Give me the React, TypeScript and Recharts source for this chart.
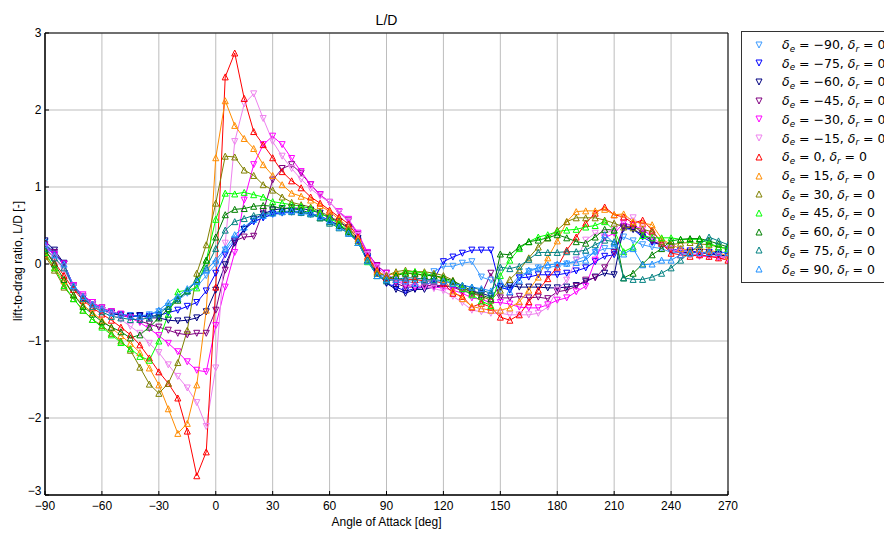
import React from 'react';
import { LineChart, Line, XAxis, YAxis, CartesianGrid, ReferenceArea } from 'recharts';

const angles = [
  -90, -85, -80, -75, -70, -65, -60, -55, -50, -45,
  -40, -35, -30, -25, -20, -15, -10, -5, 0, 5,
  10, 15, 20, 25, 30, 35, 40, 45, 50, 55,
  60, 65, 70, 75, 80, 85, 90, 95, 100, 105,
  110, 115, 120, 125, 130, 135, 140, 145, 150, 155,
  160, 165, 170, 175, 180, 185, 190, 195, 200, 205,
  210, 215, 220, 225, 230, 235, 240, 245, 250, 255,
  260, 265, 270,
];

const em90 = [
  0.28, 0.15, 0.0, -0.3, -0.44, -0.53, -0.6, -0.64, -0.66, -0.67,
  -0.67, -0.66, -0.62, -0.55, -0.47, -0.38, -0.3, -0.15, 0.0, 0.18,
  0.32, 0.45, 0.55, 0.6, 0.64, 0.66, 0.67, 0.66, 0.64, 0.6,
  0.55, 0.48, 0.4, 0.3, 0.08, -0.12, -0.18, -0.2, -0.22, -0.2,
  -0.18, -0.1, -0.03, -0.03, 0.01, 0.03, -0.17, -0.21, -0.33, -0.3,
  -0.15, -0.1, -0.05, -0.05, -0.02, 0.0, 0.05, 0.1, 0.15, 0.2,
  0.2, 0.35, 0.3, 0.25, 0.22, 0.2, 0.15, 0.15, 0.15, 0.15,
  0.15, 0.15, 0.15,
];
const em75 = [
  0.22, 0.12, 0.0, -0.3, -0.44, -0.53, -0.6, -0.64, -0.66, -0.68,
  -0.68, -0.68, -0.67, -0.63, -0.6, -0.55, -0.5, -0.35, -0.12, 0.12,
  0.3, 0.45, 0.55, 0.6, 0.65, 0.67, 0.68, 0.68, 0.66, 0.62,
  0.57, 0.5, 0.42, 0.3, 0.08, -0.12, -0.25, -0.3, -0.35, -0.32,
  -0.3, -0.2, 0.03, 0.09, 0.14, 0.18, 0.18, 0.18, -0.3, -0.34,
  -0.18, -0.17, -0.14, -0.14, -0.14, -0.12, -0.09, -0.05, 0.03, 0.1,
  0.12, 0.46, 0.45, 0.35, 0.28, 0.25, 0.2, 0.17, 0.17, 0.15,
  0.15, 0.12, 0.1,
];
const em60 = [
  0.3, 0.18, 0.01, -0.3, -0.44, -0.53, -0.6, -0.64, -0.67, -0.68,
  -0.67, -0.7, -0.7, -0.73, -0.74, -0.73, -0.7, -0.62, -0.34, -0.01,
  0.27, 0.45, 0.58, 0.65, 0.7, 0.72, 0.73, 0.72, 0.7, 0.66,
  0.6, 0.55, 0.47, 0.33, 0.1, -0.1, -0.25, -0.33, -0.38, -0.33,
  -0.33, -0.3, -0.28, -0.3, -0.32, -0.35, -0.38, -0.42, -0.3, -0.28,
  -0.3, -0.3, -0.3, -0.31, -0.31, -0.3, -0.28, -0.23, -0.17, -0.12,
  -0.14, 0.48, 0.45, 0.38, 0.3, 0.25, 0.2, 0.15, 0.15, 0.15,
  0.13, 0.12, 0.1,
];
const em45 = [
  0.25, 0.15, 0.0, -0.28, -0.42, -0.5, -0.57, -0.62, -0.66, -0.7,
  -0.74, -0.78, -0.82, -0.86, -0.9, -0.92, -0.9, -0.9, -0.6, -0.08,
  0.3, 0.35, 0.36, 0.68, 1.09, 1.24, 1.29, 1.18, 1.03, 0.9,
  0.8, 0.67, 0.56, 0.38, 0.14, -0.02, -0.12, -0.25, -0.3, -0.3,
  -0.28, -0.28, -0.28, -0.3, -0.35, -0.38, -0.4, -0.12, -0.44, -0.44,
  -0.42, -0.44, -0.43, -0.45, -0.36, -0.34, -0.29, -0.21, -0.18, -0.05,
  0.15, 0.48, 0.5, 0.4, 0.3, 0.25, 0.18, 0.15, 0.12, 0.12,
  0.1, 0.1, 0.08,
];
const em30 = [
  0.22, 0.12, 0.0, -0.28, -0.4, -0.5, -0.57, -0.62, -0.65, -0.7,
  -0.76, -0.84, -0.93, -1.03, -1.14, -1.27, -1.38, -1.4, -0.8, -0.3,
  0.15, 0.83, 1.29, 1.55, 1.66, 1.55, 1.37, 1.2, 1.03, 0.9,
  0.8, 0.68, 0.58, 0.4, 0.15, -0.03, -0.12, -0.22, -0.27, -0.3,
  -0.3, -0.3, -0.31, -0.34, -0.38, -0.44, -0.46, -0.5, -0.5, -0.52,
  -0.56, -0.57, -0.57, -0.53, -0.47, -0.44, -0.36, -0.29, 0.05, 0.34,
  0.4, 0.53, 0.5, 0.45, 0.35, 0.25, 0.2, 0.15, 0.12, 0.1,
  0.1, 0.08, 0.05,
];
const em15 = [
  0.2, 0.08, -0.08, -0.3, -0.43, -0.53, -0.6, -0.65, -0.72, -0.81,
  -0.9, -1.03, -1.15, -1.31, -1.46, -1.61, -1.8, -2.11, -1.35, 0.27,
  1.59, 2.08, 2.21, 1.89, 1.59, 1.4, 1.24, 1.1, 0.98, 0.88,
  0.8, 0.67, 0.55, 0.37, 0.12, -0.05, -0.15, -0.2, -0.25, -0.28,
  -0.3, -0.32, -0.35, -0.42, -0.5, -0.6, -0.62, -0.64, -0.64, -0.66,
  -0.66, -0.66, -0.64, -0.56, -0.34, -0.21, 0.05, 0.31, 0.4, 0.4,
  0.44, 0.57, 0.6, 0.48, 0.35, 0.25, 0.2, 0.15, 0.12, 0.12,
  0.1, 0.1, 0.08,
];
const e0 = [
  0.18, 0.02, -0.15, -0.33, -0.47, -0.57, -0.65, -0.73, -0.82, -0.92,
  -1.05, -1.22, -1.4, -1.55, -1.74, -2.17, -2.75, -2.44, -0.3, 2.43,
  2.74, 2.15, 1.72, 1.55, 1.38, 1.2, 1.08, 0.99, 0.87, 0.79,
  0.7, 0.61, 0.52, 0.35, 0.1, -0.08, -0.18, -0.2, -0.2, -0.2,
  -0.22, -0.22, -0.25, -0.38, -0.42, -0.56, -0.51, -0.56, -0.69, -0.73,
  -0.66, -0.49, -0.34, -0.19, -0.04, 0.18, 0.35, 0.53, 0.66, 0.74,
  0.64, 0.61, 0.53, 0.57, 0.44, 0.27, 0.14, 0.12, 0.1, 0.12,
  0.1, 0.08, 0.05,
];
const e15 = [
  0.12, -0.05, -0.22, -0.4, -0.53, -0.63, -0.73, -0.83, -0.93, -1.03,
  -1.15, -1.35, -1.57, -1.88, -2.2, -2.07, -1.57, -0.6, 1.38, 2.12,
  1.8, 1.63, 1.5, 1.29, 1.15, 1.03, 0.92, 0.88, 0.83, 0.76,
  0.68, 0.58, 0.48, 0.33, 0.08, -0.1, -0.15, -0.12, -0.12, -0.13,
  -0.15, -0.15, -0.2, -0.35, -0.45, -0.55, -0.58, -0.6, -0.6, -0.57,
  -0.49, -0.34, -0.17, 0.08, 0.3, 0.55, 0.68, 0.69, 0.69, 0.71,
  0.64, 0.65, 0.55, 0.53, 0.51, 0.33, 0.25, 0.2, 0.18, 0.2,
  0.18, 0.15, 0.1,
];
const e30 = [
  0.1, -0.08, -0.3, -0.45, -0.6, -0.72, -0.8, -0.9, -1.0, -1.12,
  -1.34, -1.56, -1.68, -1.55, -1.28, -0.86, -0.12, 0.25, 0.79, 1.4,
  1.39, 1.22, 1.15, 1.03, 0.96, 0.87, 0.8, 0.77, 0.74, 0.68,
  0.62, 0.55, 0.45, 0.3, 0.05, -0.12, -0.15, -0.1, -0.08, -0.1,
  -0.1, -0.12, -0.15, -0.21, -0.3, -0.38, -0.42, -0.47, -0.34, -0.2,
  -0.08, 0.08, 0.22, 0.34, 0.44, 0.55, 0.6, 0.6, 0.6, 0.57,
  0.53, 0.48, 0.47, 0.45, 0.42, 0.29, 0.25, 0.27, 0.28, 0.26,
  0.25, 0.22, 0.2,
];
const e45 = [
  0.15, -0.05, -0.28, -0.45, -0.6, -0.72, -0.82, -0.92, -1.02, -1.1,
  -1.2, -1.25, -1.0, -0.65, -0.36, -0.34, -0.31, 0.05, 0.58, 0.92,
  0.91, 0.93, 0.9, 0.87, 0.81, 0.79, 0.77, 0.75, 0.72, 0.66,
  0.6, 0.52, 0.43, 0.28, 0.03, -0.15, -0.2, -0.15, -0.1, -0.1,
  -0.12, -0.15, -0.18, -0.25, -0.32, -0.4, -0.48, -0.54, -0.15, 0.05,
  0.2, 0.29, 0.35, 0.38, 0.42, 0.44, 0.45, 0.48, 0.5, 0.55,
  0.44, 0.16, 0.22, 0.37, 0.34, 0.34, 0.34, 0.32, 0.32, 0.32,
  0.27, 0.22, 0.2,
];
const e60 = [
  0.18, 0.0, -0.2, -0.4, -0.55, -0.65, -0.75, -0.82, -0.88, -0.96,
  -0.92, -0.82, -0.7, -0.58, -0.47, -0.35, -0.2, 0.05, 0.35, 0.64,
  0.71, 0.72, 0.75, 0.76, 0.75, 0.72, 0.72, 0.7, 0.66, 0.6,
  0.55, 0.5, 0.42, 0.28, 0.05, -0.15, -0.2, -0.15, -0.12, -0.12,
  -0.15, -0.15, -0.18, -0.22, -0.28, -0.35, -0.4, -0.45, 0.13, 0.12,
  0.22, 0.29, 0.31, 0.34, 0.38, 0.34, 0.29, 0.27, 0.35, 0.45,
  0.44, -0.18, -0.12, 0.0, 0.12, 0.2, 0.3, 0.32, 0.33, 0.33,
  0.3, 0.26, 0.22,
];
const e75 = [
  0.2, 0.08, -0.05, -0.3, -0.45, -0.55, -0.62, -0.68, -0.7, -0.72,
  -0.72, -0.7, -0.65, -0.55, -0.45, -0.35, -0.22, -0.05, 0.2, 0.44,
  0.55, 0.59, 0.63, 0.65, 0.67, 0.68, 0.68, 0.67, 0.65, 0.6,
  0.53, 0.47, 0.4, 0.28, 0.05, -0.15, -0.22, -0.2, -0.18, -0.18,
  -0.2, -0.2, -0.22, -0.25, -0.28, -0.3, -0.34, -0.38, -0.04, -0.06,
  -0.03, 0.06, 0.15, 0.15, 0.15, 0.16, 0.16, 0.18, 0.25, 0.31,
  0.29, -0.18, -0.2, -0.2, -0.17, -0.12, -0.05, 0.05, 0.15, 0.25,
  0.35, 0.3, 0.25,
];
const e90 = [
  0.25, 0.12, 0.0, -0.28, -0.42, -0.52, -0.58, -0.63, -0.65, -0.67,
  -0.68, -0.66, -0.6, -0.5, -0.42, -0.32, -0.22, -0.08, 0.05, 0.2,
  0.38, 0.48, 0.58, 0.63, 0.66, 0.68, 0.69, 0.68, 0.66, 0.62,
  0.56, 0.48, 0.4, 0.28, 0.04, -0.15, -0.2, -0.2, -0.22, -0.25,
  -0.22, -0.22, -0.22, -0.25, -0.28, -0.3, -0.32, -0.35, -0.23, -0.36,
  -0.21, -0.08, -0.05, -0.01, 0.0, 0.01, 0.02, 0.05, 0.17, 0.38,
  0.27, 0.13, 0.2, -0.01, 0.0, 0.05, 0.05, 0.12, 0.14, 0.15,
  0.15, 0.15, 0.15,
];

const elevatorLabels = ['\u221290', '\u221275', '\u221260', '\u221245', '\u221230', '\u221215', '0', '15', '30', '45', '60', '75', '90'];
const seriesKeys = ['em90', 'em75', 'em60', 'em45', 'em30', 'em15', 'e0', 'e15', 'e30', 'e45', 'e60', 'e75', 'e90'];
const seriesValues = [em90, em75, em60, em45, em30, em15, e0, e15, e30, e45, e60, e75, e90];
const seriesColors = ['#3d9bff', '#0000ff', '#000080', '#800080', '#ff00ff', '#ee82ee', '#ff0000', '#ff8c00', '#808000', '#00ff00', '#008000', '#008080', '#1e90ff'];
const seriesDown = [true, true, true, true, true, true, false, false, false, false, false, false, false];

const xTicks = [-90, -60, -30, 0, 30, 60, 90, 120, 150, 180, 210, 240, 270];
const yTicks = [-3, -2, -1, 0, 1, 2, 3];

const data = angles.map((a, i) => {
  const row: Record<string, number> = { aoa: a };
  seriesKeys.forEach((k, j) => {
    row[k] = seriesValues[j][i];
  });
  return row;
});

const fmt = (v: number) => (v < 0 ? '\u2212' + Math.abs(v) : String(v));

const W = 884;
const H = 534;
const FONT = '"Liberation Sans", Arial, Helvetica, sans-serif';
const MATHFONT = '"DejaVu Sans", sans-serif';

function triPoints(cx: number, cy: number, r: number, down: boolean) {
  return down
    ? `${cx},${cy + r} ${cx - r},${cy - r} ${cx + r},${cy - r}`
    : `${cx},${cy - r} ${cx - r},${cy + r} ${cx + r},${cy + r}`;
}

function makeDot(color: string, down: boolean, key: string) {
  return (p: any) => {
    const { cx, cy, index } = p;
    if (cx == null || cy == null || isNaN(cx) || isNaN(cy)) return <g key={`${key}-${index}`} />;
    return (
      <polygon
        key={`${key}-${index}`}
        points={triPoints(cx, cy, 3, down)}
        fill="none"
        stroke={color}
        strokeWidth={1}
      />
    );
  };
}

function YTick(props: any) {
  const { x, y, payload } = props;
  const shift = payload.value === -3 ? -4 : 0;
  return (
    <text x={x} y={y + shift} dy="0.355em" textAnchor="end" fontSize={12} fontFamily={FONT} fill="#000">
      {fmt(payload.value)}
    </text>
  );
}

function LegendLabel({ val }: { val: string }) {
  const sub: React.CSSProperties = { fontStyle: 'italic', fontSize: '0.7em', position: 'relative', top: '0.3em' };
  return (
    <span style={{ fontFamily: MATHFONT, fontSize: 12.5, whiteSpace: 'pre', color: '#000' }}>
      <span style={{ fontStyle: 'italic' }}>δ</span>
      <span style={sub}>e</span>
      <span>{' = ' + val + ', '}</span>
      <span style={{ fontStyle: 'italic' }}>δ</span>
      <span style={sub}>r</span>
      <span>{' = 0'}</span>
    </span>
  );
}

export default function App() {
  return (
    <div style={{ position: 'absolute', left: 0, top: 0, width: W, height: H, overflow: 'hidden', background: '#fff' }}>
      <LineChart width={W} height={H} data={data} margin={{ top: 33, right: 156, bottom: 14, left: 0 }}>
        <CartesianGrid stroke="#bdbdbd" strokeWidth={1} />
        <XAxis
          type="number"
          dataKey="aoa"
          domain={[-90, 270]}
          ticks={xTicks}
          allowDataOverflow
          height={25}
          stroke="#000"
          tickSize={-4}
          tickMargin={10}
          tickFormatter={fmt}
          tick={{ fontSize: 12, fontFamily: FONT, fill: '#000' }}
          interval={0}
        />
        <YAxis
          type="number"
          domain={[-3, 3]}
          ticks={yTicks}
          allowDataOverflow
          width={45}
          stroke="#000"
          tickSize={-4}
          tickMargin={7.5}
          tick={<YTick />}
          interval={0}
        />
        <ReferenceArea x1={-90} x2={270} y1={-3} y2={3} fill="none" stroke="#000" strokeWidth={1} ifOverflow="visible" />
        {seriesKeys.map((k, j) => (
          <Line
            key={k}
            type="linear"
            dataKey={k}
            stroke={seriesColors[j]}
            strokeWidth={1}
            dot={makeDot(seriesColors[j], seriesDown[j], k)}
            activeDot={false}
            isAnimationActive={false}
          />
        ))}
      </LineChart>
      <svg width={W} height={H} style={{ position: 'absolute', left: 0, top: 0, pointerEvents: 'none' }}>
        <text x={386.5} y={25} textAnchor="middle" fontFamily={FONT} fontSize={14} fill="#000">L/D</text>
        <text x={386.5} y={526} textAnchor="middle" fontFamily={FONT} fontSize={12} fill="#000">Angle of Attack [deg]</text>
        <text x={21.5} y={261} textAnchor="middle" fontFamily={FONT} fontSize={12} fill="#000" transform="rotate(-90 21.5 261)">
          lift-to-drag ratio, L/D [-]
        </text>
      </svg>
      <div
        style={{
          position: 'absolute',
          left: 741,
          top: 31,
          width: 160,
          height: 252,
          border: '1px solid #333',
          background: '#fff',
          boxSizing: 'border-box',
        }}
      >
        {elevatorLabels.map((lab, i) => (
          <div
            key={lab}
            style={{
              position: 'absolute',
              left: 0,
              top: 12.5 + i * 18.72 - 9,
              height: 18,
              width: 160,
              display: 'flex',
              alignItems: 'center',
            }}
          >
            <svg width={10} height={10} style={{ position: 'absolute', left: 12, top: 4 }}>
              <polygon points={triPoints(5, 5, 3, seriesDown[i])} fill="none" stroke={seriesColors[i]} strokeWidth={1} />
            </svg>
            <div style={{ position: 'absolute', left: 40, top: 0, height: 18, display: 'flex', alignItems: 'center' }}>
              <LegendLabel val={lab} />
            </div>
          </div>
        ))}
      </div>
    </div>
  );
}
